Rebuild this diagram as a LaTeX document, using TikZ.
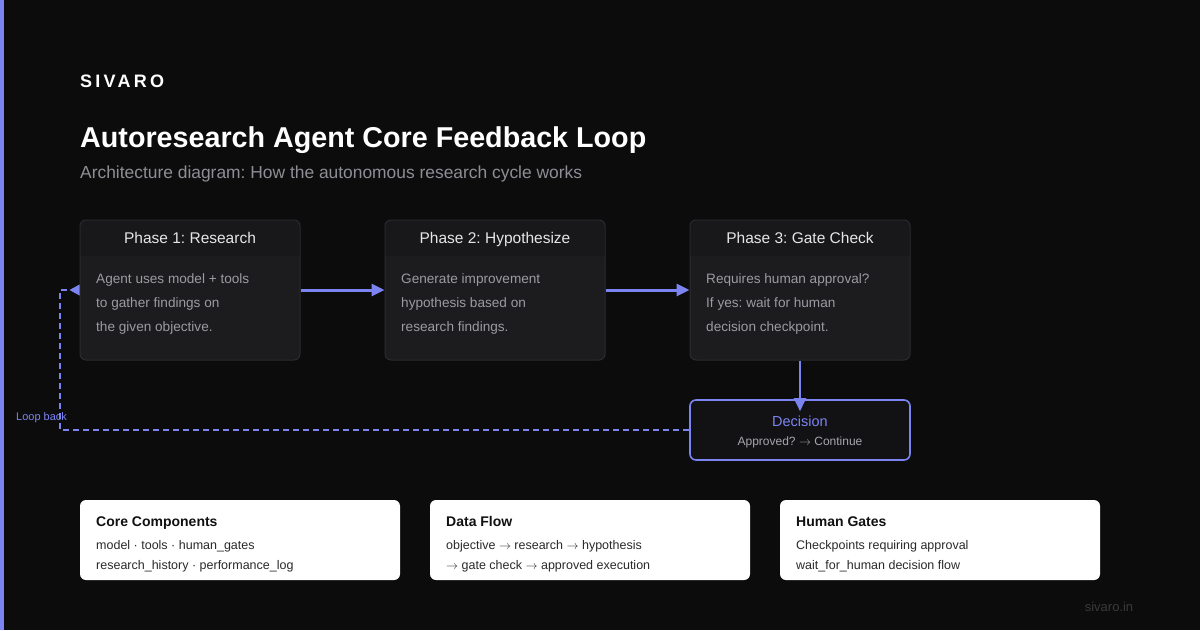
\documentclass[tikz,border=0pt]{standalone}
\usepackage{fontspec}
\setmainfont{Liberation Sans}
\newcommand\rarr{\ensuremath{\rightarrow}}
\usetikzlibrary{arrows.meta}
\definecolor{bg}{HTML}{0C0C0D}
\definecolor{accent}{HTML}{7C84F2}
\definecolor{boxbody}{HTML}{1C1C1E}
\definecolor{boxhead}{HTML}{18181A}
\definecolor{boxline}{HTML}{2C2C2F}
\definecolor{headtxt}{HTML}{E6E6E6}
\definecolor{bodytxt}{HTML}{9B9BA1}
\definecolor{subtxt}{HTML}{8E8E95}
\definecolor{dectxt}{HTML}{A6A6AC}
\definecolor{decfill}{HTML}{121215}
\definecolor{cardtitle}{HTML}{111111}
\definecolor{cardtxt}{HTML}{2A2A2A}
\definecolor{foot}{HTML}{3A3A3C}
\tikzset{
  phasebox/.style={rectangle, rounded corners=6pt, fill=boxbody, draw=boxline, line width=1pt, minimum width=220pt, minimum height=140pt, inner sep=0pt},
  headtext/.style={anchor=base, text=headtxt, font=\fontsize{15.5}{18}\selectfont, inner sep=0pt},
  bodyline/.style={anchor=base west, text=bodytxt, font=\fontsize{13.6}{16}\selectfont, inner sep=0pt},
  flow/.style={draw=accent, line width=3pt, -{Triangle[length=13pt,width=12pt]}},
  card/.style={rectangle, rounded corners=6pt, fill=white, minimum width=320pt, minimum height=80pt, inner sep=0pt},
  cardhead/.style={anchor=base west, text=cardtitle, font=\fontsize{14}{16}\selectfont\bfseries, inner sep=0pt},
  cardline/.style={anchor=base west, text=cardtxt, font=\fontsize{12.5}{15}\selectfont, inner sep=0pt},
}
\begin{document}
\frenchspacing
\begin{tikzpicture}[x=1pt,y=-1pt]
\fill[bg] (0,0) rectangle (1200,630);
\useasboundingbox (0,0) rectangle (1200,630);
\fill[accent] (0,0) rectangle (4,630);

% header texts
\node[anchor=base west, inner sep=0pt, text=white, font=\fontsize{18}{20}\selectfont\bfseries\addfontfeatures{LetterSpace=18}] (brand) at (80,87) {SIVARO};
\node[anchor=base west, inner sep=0pt, text=white, font=\fontsize{28.7}{32}\selectfont\bfseries] (title) at (80,147) {Autoresearch Agent Core Feedback Loop};
\node[anchor=base west, inner sep=0pt, text=subtxt, font=\fontsize{17.4}{20}\selectfont] (subtitle) at (80,178) {Architecture diagram: How the autonomous research cycle works};

% phase boxes
\node[phasebox] (p1) at (190,290) {};
\node[phasebox] (p2) at (495,290) {};
\node[phasebox] (p3) at (800,290) {};
\fill[boxhead] (80.5,256) {[rounded corners=5.5pt] -- (80.5,220.5) -- (299.5,220.5)} -- (299.5,256) -- cycle;
\fill[boxhead] (385.5,256) {[rounded corners=5.5pt] -- (385.5,220.5) -- (604.5,220.5)} -- (604.5,256) -- cycle;
\fill[boxhead] (690.5,256) {[rounded corners=5.5pt] -- (690.5,220.5) -- (909.5,220.5)} -- (909.5,256) -- cycle;

\node[headtext] (h1) at (190,243.5) {Phase 1: Research};
\node[headtext] (h2) at (495,243.5) {Phase 2: Hypothesize};
\node[headtext] (h3) at (800,243.5) {Phase 3: Gate Check};

\node[bodyline] (b1a) at (96,283.5) {Agent uses model + tools};
\node[bodyline] (b1b) at (96,307.5) {to gather findings on};
\node[bodyline] (b1c) at (96,331.5) {the given objective.};
\node[bodyline] (b2a) at (401,283.5) {Generate improvement};
\node[bodyline] (b2b) at (401,307.5) {hypothesis based on};
\node[bodyline] (b2c) at (401,331.5) {research findings.};
\node[bodyline] (b3a) at (706,283.5) {Requires human approval?};
\node[bodyline] (b3b) at (706,307.5) {If yes: wait for human};
\node[bodyline] (b3c) at (706,331.5) {decision checkpoint.};

% decision
\node[rectangle, rounded corners=6pt, fill=decfill, draw=accent, line width=1.6pt, minimum width=220pt, minimum height=60pt, inner sep=0pt] (dec) at (800,430) {};
\node[anchor=base, inner sep=0pt, text=accent, font=\fontsize{14.5}{17}\selectfont] (dect) at (800,426) {Decision};
\node[anchor=base, inner sep=0pt, text=dectxt, font=\fontsize{12}{14}\selectfont] (decs) at (800,445.5) {Approved? \rarr{} Continue};

% flows
\draw[flow] (p1.east) -- (p2.west);
\draw[flow] (p2.east) -- (p3.west);
\draw[flow, line width=2pt] (p3.south) -- ([yshift=-12pt]dec.north);

% loop back
\coordinate (lb) at (60,430);
\coordinate (lt) at (60,290);
\draw[accent, line width=1.5pt, dash pattern=on 6pt off 4pt] (dec.west) -- (lb) -- (lt) -- ([xshift=-10pt]p1.west);
\fill[accent] ([xshift=-10pt]p1.west) -- ([yshift=5.5pt]p1.west) -- ([yshift=-5.5pt]p1.west) -- cycle;
\node[anchor=base west, inner sep=0pt, text=accent, font=\fontsize{11}{13}\selectfont] (loop) at (16,420) {Loop back};

% cards
\node[card] (c1) at (240,540) {};
\node[card] (c2) at (590,540) {};
\node[card] (c3) at (940,540) {};
\node[cardhead] (c1t) at (96,526) {Core Components};
\node[cardline] (c1a) at (96,549.5) {model · tools · human\_gates};
\node[cardline] (c1b) at (96,569.5) {research\_history · performance\_log};
\node[cardhead] (c2t) at (446,526) {Data Flow};
\node[cardline] (c2a) at (446,549.5) {objective \rarr{} research \rarr{} hypothesis};
\node[cardline] (c2b) at (446,569.5) {\rarr{} gate check \rarr{} approved execution};
\node[cardhead] (c3t) at (796,526) {Human Gates};
\node[cardline] (c3a) at (796,549.5) {Checkpoints requiring approval};
\node[cardline] (c3b) at (796,569.5) {wait\_for\_human decision flow};

\node[anchor=base, inner sep=0pt, text=foot, font=\fontsize{13}{15}\selectfont] (footer) at (1109,611) {sivaro.in};
\end{tikzpicture}
\end{document}
